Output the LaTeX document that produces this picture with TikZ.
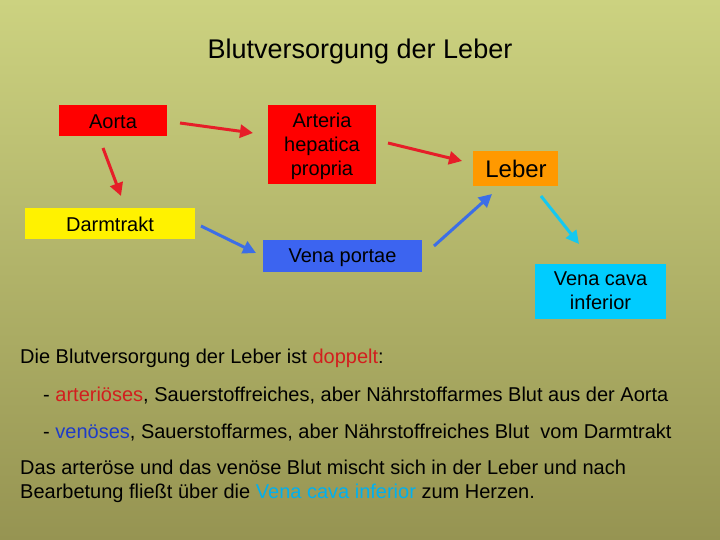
\documentclass[tikz,border=0pt]{standalone}
\usepackage{fontspec}
\setmainfont{Liberation Sans}
\usetikzlibrary{arrows.meta}
\definecolor{bgtop}{RGB}{204,210,128}
\definecolor{bgbot}{RGB}{150,148,82}
\definecolor{ared}{RGB}{230,30,40}
\definecolor{ablue}{RGB}{60,110,230}
\definecolor{acyan}{RGB}{20,200,240}
\definecolor{bblue}{RGB}{60,100,240}
\definecolor{bcyan}{RGB}{0,204,255}
\definecolor{borange}{RGB}{255,153,0}
\definecolor{tred}{RGB}{210,30,30}
\definecolor{tblue}{RGB}{30,60,200}
\definecolor{tcyan}{RGB}{0,176,240}
\tikzset{
 box/.style={inner sep=0pt,font=\fontsize{20}{24}\selectfont,align=center},
 arr/.style={line width=3pt,-{Triangle[length=13pt,width=13pt]}},
 txt/.style={anchor=west,inner sep=0pt,font=\fontsize{20}{24}\selectfont,align=left}
}
\begin{document}
\begin{tikzpicture}[x=1pt,y=-1pt]
\shade[top color=bgtop,bottom color=bgbot] (0,0) rectangle (720,540);
\useasboundingbox (0,0) rectangle (720,540);
\node[inner sep=0pt,font=\fontsize{27}{30}\selectfont] (title) at (360,52) {Blutversorgung der Leber};
\node[box,fill=red,minimum width=108pt,minimum height=31pt] (aorta) at (113,120.5) {};
\node[box] (aortat) at (113,122) {Aorta};
\node[box,fill=red,minimum width=108pt,minimum height=79pt] (art) at (322,144.5) {};
\node[box] (artt) at (322,146) {Arteria\\hepatica\\propria};
\node[box,fill=borange,minimum width=85pt,minimum height=35pt] (leber) at (515.5,168.5) {};
\node[box,font=\fontsize{24}{28}\selectfont] (lebert) at (516,169) {Leber};
\node[box,fill=yellow,minimum width=170pt,minimum height=31pt] (darm) at (110,223.5) {};
\node[box] (darmt) at (110,224) {Darmtrakt};
\node[box,fill=bblue,minimum width=159pt,minimum height=32pt] (vp) at (342.5,256) {};
\node[box] (vpt) at (342.5,258) {Vena portae};
\node[box,fill=bcyan,minimum width=131pt,minimum height=55pt] (vc) at (600.5,291.5) {};
\node[box] (vct) at (600.5,291) {Vena cava\\inferior};
\coordinate (a1) at (180,123); \coordinate (a1e) at (253,133);
\draw[arr,ared] (a1) -- (a1e);
\coordinate (a2) at (103,148); \coordinate (a2e) at (121,196);
\draw[arr,ared] (a2) -- (a2e);
\coordinate (a3) at (388,143); \coordinate (a3e) at (462,161);
\draw[arr,ared] (a3) -- (a3e);
\coordinate (b1) at (201,226); \coordinate (b1e) at (256,253);
\draw[arr,ablue] (b1) -- (b1e);
\coordinate (b2) at (434,246); \coordinate (b2e) at (492,194);
\draw[arr,ablue] (b2) -- (b2e);
\coordinate (c1) at (541,196); \coordinate (c1e) at (579,244);
\draw[arr,acyan] (c1) -- (c1e);
\node[txt] (l1) at (20,358) {Die Blutversorgung der Leber ist \textcolor{tred}{doppelt}:};
\node[txt] (l2) at (43,396) {- \textcolor{tred}{arteriöses}, Sauerstoffreiches, aber Nährstoffarmes Blut aus der Aorta};
\node[txt] (l3) at (43,433) {- \textcolor{tblue}{venöses}, Sauerstoffarmes, aber Nährstoffreiches Blut\ \ vom Darmtrakt};
\node[txt] (l4) at (20,481) {Das arteröse und das venöse Blut mischt sich in der Leber und nach\\Bearbetung fließt über die \textcolor{tcyan}{Vena cava inferior} zum Herzen.};
\end{tikzpicture}
\end{document}
